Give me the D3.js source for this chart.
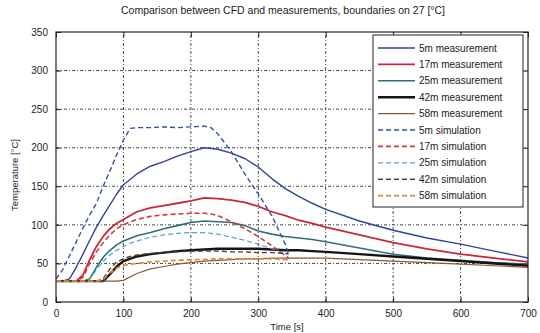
<!DOCTYPE html>
<html>
<head>
<meta charset="utf-8">
<script src="https://cdn.jsdelivr.net/npm/d3@7/dist/d3.min.js"></script>
<style>
  html, body { margin: 0; padding: 0; background: #fff; }
  svg text { font-family: "Liberation Sans", Arial, sans-serif; fill: #222; }
</style>
</head>
<body>
<svg id="chart" width="540" height="333"></svg>
<script>
// Time stamps [s]
const timeMeas = [0, 10, 20, 30, 40, 50, 60, 70, 80, 90, 100, 120, 140, 160, 180, 200, 220, 240, 260, 280, 300, 320, 340, 360, 380, 400, 450, 500, 550, 600, 650, 700];
const timeSim = [0, 10, 20, 30, 40, 50, 60, 70, 80, 90, 100, 110, 120, 140, 160, 180, 200, 220, 230, 240, 260, 280, 300, 320, 340, 345];

// Measured temperatures [°C]
const meas5 = [27, 27, 30, 45, 62, 80, 97, 112, 126, 140, 152, 166, 176, 182, 189, 195, 200, 198, 193, 186, 175, 160, 147, 137, 128, 120, 105, 93, 83, 75, 66, 57];
const meas17 = [27, 27, 27, 27, 35, 55, 72, 85, 95, 102, 107, 117, 122, 125, 128, 131, 135, 134, 132, 129, 124, 117, 112, 106, 102, 97, 87, 77, 69, 62, 57, 52];
const meas25 = [27, 27, 27, 27, 27, 30, 45, 58, 67, 74, 79, 86, 90, 95, 99, 103, 105, 104, 103, 99, 92, 88, 85, 83, 81, 78, 70, 62, 57, 54, 51, 49];
const meas42 = [27, 27, 27, 27, 27, 27, 27, 27, 36, 46, 53, 59, 62, 64, 66, 67, 68, 69, 69, 69, 69, 68, 67, 67, 66, 65, 62, 59, 56, 53, 50, 47];
const meas58 = [27, 27, 27, 27, 27, 27, 27, 27, 27, 27, 28, 37, 43, 46, 49, 51, 53, 54, 55, 56, 56, 57, 57, 57, 57, 57, 55, 53, 51, 49, 47, 45];

// Simulated temperatures [°C]
const sim5 = [30, 42, 60, 78, 96, 113, 128, 150, 170, 191, 210, 225, 226, 226, 227, 226, 227, 228, 226, 218, 195, 166, 140, 112, 75, 62];
const sim17 = [27, 27, 27, 27, 32, 50, 65, 77, 87, 95, 100, 104, 107, 111, 113, 114, 115, 115, 114, 112, 104, 95, 85, 73, 60, 57];
const sim25 = [27, 27, 27, 27, 27, 30, 42, 53, 61, 67, 72, 76, 79, 84, 87, 89, 90, 90, 89, 88, 84, 80, 75, 69, 63, 61];
const sim42 = [27, 27, 27, 27, 27, 27, 27, 30, 43, 52, 56, 59, 61, 63, 64, 65, 66, 66, 66, 66, 65, 65, 64, 64, 63, 63];
const sim58 = [27, 27, 27, 27, 27, 27, 27, 29, 38, 44, 47, 49, 50, 52, 53, 54, 55, 55, 56, 56, 56, 56, 56, 56, 55, 55];

const xTicks = [0, 100, 200, 300, 400, 500, 600, 700];
const yTicks = [0, 50, 100, 150, 200, 250, 300, 350];

const seriesNames = ["5m measurement", "17m measurement", "25m measurement", "42m measurement", "58m measurement",
                     "5m simulation", "17m simulation", "25m simulation", "42m simulation", "58m simulation"];
const seriesValues = [meas5, meas17, meas25, meas42, meas58, sim5, sim17, sim25, sim42, sim58];
const seriesColors = ["#2d4596", "#c8283c", "#2f6e78", "#141414", "#8a5a36",
                      "#31539e", "#d23a3a", "#4fa3cf", "#5a3a30", "#e0893a"];
const seriesWidths = [1.4, 1.8, 1.6, 2.4, 1.2, 1.4, 1.6, 1.2, 1.4, 1.8];

const series = seriesNames.map((name, i) => ({
  name,
  values: seriesValues[i],
  time: i < 5 ? timeMeas : timeSim,
  color: seriesColors[i],
  width: seriesWidths[i],
  dashed: i >= 5
}));

const svg = d3.select("#chart");
const margin = { left: 56, right: 12, top: 32, bottom: 31 };
const W = 540, H = 333;
const x = d3.scaleLinear().domain([0, 700]).range([margin.left, W - margin.right]);
const y = d3.scaleLinear().domain([0, 350]).range([H - margin.bottom, margin.top]);

// Title
svg.append("text")
  .attr("x", 283).attr("y", 14)
  .attr("text-anchor", "middle")
  .attr("font-size", 10.5)
  .text("Comparison between CFD and measurements, boundaries on 27 [°C]");

// Dotted grid
const grid = svg.append("g").attr("stroke", "#333").attr("stroke-width", 0.9).attr("stroke-dasharray", "3,2,1,2");
grid.selectAll("line.gx").data(xTicks.slice(1, -1)).join("line")
  .attr("x1", d => x(d)).attr("x2", d => x(d))
  .attr("y1", y(0)).attr("y2", y(350));
grid.selectAll("line.gy").data(yTicks.slice(1, -1)).join("line")
  .attr("x1", x(0)).attr("x2", x(700))
  .attr("y1", d => y(d)).attr("y2", d => y(d));

// Axes with inward ticks on all four sides
const axB = d3.axisBottom(x).tickValues(xTicks).tickSizeInner(-5).tickSizeOuter(0).tickPadding(8);
const axL = d3.axisLeft(y).tickValues(yTicks).tickSizeInner(-5).tickSizeOuter(0).tickPadding(8);
const axT = d3.axisTop(x).tickValues(xTicks).tickSizeInner(-5).tickSizeOuter(0).tickFormat("");
const axR = d3.axisRight(y).tickValues(yTicks).tickSizeInner(-5).tickSizeOuter(0).tickFormat("");

function styleAxis(g) {
  g.select(".domain").remove();
  g.selectAll("line").attr("stroke", "#222");
  g.selectAll("text").attr("font-size", 10).attr("fill", "#222").attr("font-family", "'Liberation Sans', Arial, sans-serif");
}
svg.append("g").attr("transform", `translate(0,${y(0)})`).call(axB).call(styleAxis);
svg.append("g").attr("transform", `translate(${x(0)},0)`).call(axL).call(styleAxis);
svg.append("g").attr("transform", `translate(0,${y(350)})`).call(axT).call(styleAxis);
svg.append("g").attr("transform", `translate(${x(700)},0)`).call(axR).call(styleAxis);

// Lines
const line = d3.line().x(d => x(d[0])).y(d => y(d[1]));
const plot = svg.append("g");
series.forEach(s => {
  plot.append("path")
    .datum(s.time.map((t, i) => [t, s.values[i]]))
    .attr("fill", "none")
    .attr("stroke", s.color)
    .attr("stroke-width", s.width)
    .attr("stroke-linejoin", "round")
    .attr("stroke-dasharray", s.dashed ? "5,3" : null)
    .attr("d", line);
});

// Plot frame
svg.append("rect")
  .attr("x", x(0)).attr("y", y(350))
  .attr("width", x(700) - x(0)).attr("height", y(0) - y(350))
  .attr("fill", "none").attr("stroke", "#222").attr("stroke-width", 1.2);

// Axis labels
svg.append("text")
  .attr("x", 287).attr("y", 330)
  .attr("text-anchor", "middle").attr("font-size", 9.5)
  .text("Time [s]");
svg.append("text")
  .attr("transform", `translate(18,${(y(0) + y(350)) / 2 + 8}) rotate(-90)`)
  .attr("text-anchor", "middle").attr("font-size", 9.5)
  .text("Temperature [°C]");

// Legend
const legX = 373, legY = 35, legW = 150, rowH = 16.4;
const legend = svg.append("g");
legend.append("rect")
  .attr("x", legX).attr("y", legY)
  .attr("width", legW).attr("height", rowH * series.length + 8)
  .attr("fill", "#fff").attr("stroke", "#222").attr("stroke-width", 1);
series.forEach((s, i) => {
  const cy = legY + 13 + i * rowH;
  legend.append("line")
    .attr("x1", legX + 5).attr("x2", legX + 42)
    .attr("y1", cy).attr("y2", cy)
    .attr("stroke", s.color).attr("stroke-width", s.width)
    .attr("stroke-dasharray", s.dashed ? "5,3" : null);
  legend.append("text")
    .attr("x", legX + 46).attr("y", cy + 3.5)
    .attr("font-size", 10)
    .text(s.name);
});
</script>
</body>
</html>
